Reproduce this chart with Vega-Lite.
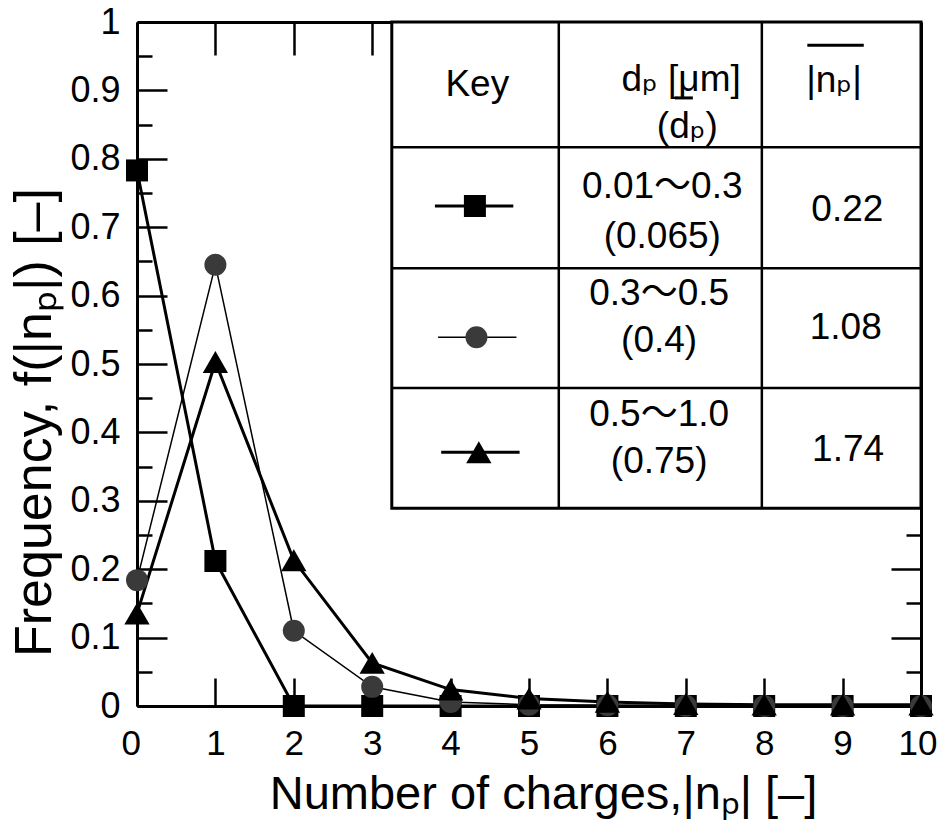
{
  "$schema": "https://vega.github.io/schema/vega-lite/v6.json",
  "width": 784,
  "height": 684,
  "autosize": {"type": "none"},
  "padding": {"left": 137, "top": 22, "right": 18, "bottom": 114},
  "background": "white",
  "config": {
    "view": {"stroke": null},
    "font": "Liberation Sans",
    "axis": {
      "domainColor": "black", "domainWidth": 3,
      "tickColor": "black", "tickWidth": 2.5,
      "labelColor": "black", "labelFont": "Liberation Sans", "labelFontSize": 36,
      "labelFlush": false, "labelOverlap": false, "labelBound": false,
      "titleFont": "Liberation Sans", "titleFontSize": 47, "titleFontWeight": "normal", "titleColor": "black",
      "grid": false
    }
  },
  "datasets": {
    "pts": [
      {"series": "sq", "n": 0, "f": 0.783}, {"series": "sq", "n": 1, "f": 0.212}, {"series": "sq", "n": 2, "f": 0},
      {"series": "sq", "n": 3, "f": 0}, {"series": "sq", "n": 4, "f": 0}, {"series": "sq", "n": 5, "f": 0},
      {"series": "sq", "n": 6, "f": 0}, {"series": "sq", "n": 7, "f": 0}, {"series": "sq", "n": 8, "f": 0},
      {"series": "sq", "n": 9, "f": 0}, {"series": "sq", "n": 10, "f": 0},
      {"series": "ci", "n": 0, "f": 0.184}, {"series": "ci", "n": 1, "f": 0.645}, {"series": "ci", "n": 2, "f": 0.11},
      {"series": "ci", "n": 3, "f": 0.028}, {"series": "ci", "n": 4, "f": 0.006}, {"series": "ci", "n": 5, "f": 0.002},
      {"series": "ci", "n": 6, "f": 0.001}, {"series": "ci", "n": 7, "f": 0.0005}, {"series": "ci", "n": 8, "f": 0},
      {"series": "ci", "n": 9, "f": 0}, {"series": "ci", "n": 10, "f": 0},
      {"series": "tr", "n": 0, "f": 0.135}, {"series": "tr", "n": 1, "f": 0.503}, {"series": "tr", "n": 2, "f": 0.213},
      {"series": "tr", "n": 3, "f": 0.063}, {"series": "tr", "n": 4, "f": 0.024}, {"series": "tr", "n": 5, "f": 0.011},
      {"series": "tr", "n": 6, "f": 0.006}, {"series": "tr", "n": 7, "f": 0.003}, {"series": "tr", "n": 8, "f": 0.002},
      {"series": "tr", "n": 9, "f": 0.002}, {"series": "tr", "n": 10, "f": 0.002}
    ],
    "box": [{"x": 3.25, "x2": 10, "y": 0.289, "y2": 1}],
    "grid": [
      {"x": 5.38, "x2": 5.38, "y": 0.289, "y2": 1},
      {"x": 7.97, "x2": 7.97, "y": 0.289, "y2": 1},
      {"x": 3.25, "x2": 10, "y": 0.817, "y2": 0.817},
      {"x": 3.25, "x2": 10, "y": 0.64, "y2": 0.64},
      {"x": 3.25, "x2": 10, "y": 0.465, "y2": 0.465}
    ],
    "keys": [
      {"series": "sq", "x": 3.8, "x2": 4.8, "xm": 4.31, "y": 0.731},
      {"series": "ci", "x": 3.84, "x2": 4.84, "xm": 4.33, "y": 0.539},
      {"series": "tr", "x": 3.88, "x2": 4.88, "xm": 4.36, "y": 0.371}
    ],
    "texts": [
      {"x": 4.34, "y": 0.908, "label": "Key"},
      {"x": 6.94, "y": 0.915, "label": "dₚ [μm]"},
      {"x": 7.02, "y": 0.846, "label": "(dₚ)"},
      {"x": 8.89, "y": 0.914, "label": "|nₚ|"},
      {"x": 6.7, "y": 0.759, "label": "0.01〜0.3"},
      {"x": 6.7, "y": 0.686, "label": "(0.065)"},
      {"x": 9.06, "y": 0.725, "label": "0.22"},
      {"x": 6.66, "y": 0.602, "label": "0.3〜0.5"},
      {"x": 6.66, "y": 0.534, "label": "(0.4)"},
      {"x": 9.04, "y": 0.553, "label": "1.08"},
      {"x": 6.66, "y": 0.425, "label": "0.5〜1.0"},
      {"x": 6.66, "y": 0.357, "label": "(0.75)"},
      {"x": 9.07, "y": 0.374, "label": "1.74"}
    ],
    "bars": [
      {"x": 6.86, "x2": 7.09, "y": 0.889},
      {"x": 8.55, "x2": 9.27, "y": 0.966}
    ]
  },
  "resolve": {"axis": {"x": "independent", "y": "independent"}},
  "layer": [
    {
      "data": {"name": "pts"},
      "mark": {"type": "line", "color": "black"},
      "encoding": {
        "x": {"field": "n", "type": "quantitative",
          "scale": {"domain": [0, 10], "nice": false, "zero": false},
          "axis": {"orient": "bottom", "values": [0,1,2,3,4,5,6,7,8,9,10], "tickSize": -28, "labelPadding": 48, "format": "d",
            "labelFontSize": 35, "labelFlush": true, "labelFlushOffset": 16,
            "title": "Number of charges,|nₚ| [–]", "titleX": 406, "titleY": 102, "titleBaseline": "alphabetic", "titleAlign": "center"}},
        "y": {"field": "f", "type": "quantitative",
          "scale": {"domain": [0, 1], "nice": false},
          "axis": {"orient": "left", "values": [0,0.1,0.2,0.3,0.4,0.5,0.6,0.7,0.8,0.9,1], "tickSize": -30, "labelPadding": 47, "format": "~g",
            "title": "Frequency, f(|nₚ|) [–]", "titleFontSize": 52, "titleX": -76, "titleY": 400, "titleAlign": "center"}},
        "strokeWidth": {"field": "series", "type": "nominal", "scale": {"type": "ordinal", "domain": ["sq","ci","tr"], "range": [3, 1.5, 3]}, "legend": null},
        "detail": {"field": "series"}
      }
    },
    {
      "data": {"name": "pts"},
      "mark": {"type": "point", "filled": true, "opacity": 1},
      "encoding": {
        "x": {"field": "n", "type": "quantitative", "scale": {"domain": [0, 10], "nice": false, "zero": false},
          "axis": {"orient": "top", "values": [0,1,2,3,4,5,6,7,8,9,10], "tickSize": -33, "labels": false, "domain": true, "title": null}},
        "y": {"field": "f", "type": "quantitative", "scale": {"domain": [0, 1], "nice": false},
          "axis": {"orient": "left", "values": [0.05,0.15,0.25,0.35,0.45,0.55,0.65,0.75,0.85,0.95], "tickSize": -15, "labels": false, "domain": false, "title": null}},
        "shape": {"field": "series", "type": "nominal", "scale": {"domain": ["sq","ci","tr"], "range": ["square","circle","triangle-up"]}, "legend": null},
        "color": {"field": "series", "type": "nominal", "scale": {"domain": ["sq","ci","tr"], "range": ["#000000","#3a3a3a","#000000"]}, "legend": null},
        "size": {"field": "series", "type": "nominal", "scale": {"type": "ordinal", "domain": ["sq","ci","tr"], "range": [484, 484, 640]}, "legend": null}
      }
    },
    {
      "data": {"name": "box"},
      "mark": {"type": "rect", "fill": "white", "stroke": "black", "strokeWidth": 3},
      "encoding": {
        "x": {"field": "x", "type": "quantitative", "scale": {"domain": [0, 10], "nice": false, "zero": false}, "axis": null},
        "x2": {"field": "x2"},
        "y": {"field": "y", "type": "quantitative", "scale": {"domain": [0, 1], "nice": false},
          "axis": {"orient": "right", "values": [0,0.1,0.2,0.3,0.4,0.5,0.6,0.7,0.8,0.9,1], "tickSize": -30, "labels": false, "domain": true, "title": null}},
        "y2": {"field": "y2"}
      }
    },
    {
      "data": {"name": "grid"},
      "mark": {"type": "rule", "color": "black", "strokeWidth": 2.5},
      "encoding": {
        "x": {"field": "x", "type": "quantitative", "scale": {"domain": [0, 10], "nice": false, "zero": false}, "axis": null},
        "x2": {"field": "x2"},
        "y": {"field": "y", "type": "quantitative", "scale": {"domain": [0, 1], "nice": false},
          "axis": {"orient": "right", "values": [0.05,0.15,0.25,0.35,0.45,0.55,0.65,0.75,0.85,0.95], "tickSize": -15, "labels": false, "domain": false, "title": null}},
        "y2": {"field": "y2"}
      }
    },
    {
      "data": {"name": "keys"},
      "mark": {"type": "rule", "color": "black"},
      "encoding": {
        "x": {"field": "x", "type": "quantitative", "scale": {"domain": [0, 10], "nice": false, "zero": false}, "axis": null},
        "x2": {"field": "x2"},
        "y": {"field": "y", "type": "quantitative", "scale": {"domain": [0, 1], "nice": false}, "axis": null},
        "strokeWidth": {"field": "series", "type": "nominal", "scale": {"type": "ordinal", "domain": ["sq","ci","tr"], "range": [3, 1.5, 3]}, "legend": null}
      }
    },
    {
      "data": {"name": "keys"},
      "mark": {"type": "point", "filled": true, "opacity": 1},
      "encoding": {
        "x": {"field": "xm", "type": "quantitative", "scale": {"domain": [0, 10], "nice": false, "zero": false}, "axis": null},
        "y": {"field": "y", "type": "quantitative", "scale": {"domain": [0, 1], "nice": false}, "axis": null},
        "shape": {"field": "series", "type": "nominal", "scale": {"domain": ["sq","ci","tr"], "range": ["square","circle","triangle-up"]}, "legend": null},
        "color": {"field": "series", "type": "nominal", "scale": {"domain": ["sq","ci","tr"], "range": ["#000000","#3a3a3a","#000000"]}, "legend": null},
        "size": {"field": "series", "type": "nominal", "scale": {"type": "ordinal", "domain": ["sq","ci","tr"], "range": [484, 484, 640]}, "legend": null}
      }
    },
    {
      "data": {"name": "texts"},
      "mark": {"type": "text", "font": "Liberation Sans, DejaVu Sans, Noto Sans CJK JP", "fontSize": 37, "align": "center", "baseline": "middle", "color": "black"},
      "encoding": {
        "x": {"field": "x", "type": "quantitative", "scale": {"domain": [0, 10], "nice": false, "zero": false}, "axis": null},
        "y": {"field": "y", "type": "quantitative", "scale": {"domain": [0, 1], "nice": false}, "axis": null},
        "text": {"field": "label"}
      }
    },
    {
      "data": {"name": "bars"},
      "mark": {"type": "rule", "color": "black", "strokeWidth": 3},
      "encoding": {
        "x": {"field": "x", "type": "quantitative", "scale": {"domain": [0, 10], "nice": false, "zero": false}, "axis": null},
        "x2": {"field": "x2"},
        "y": {"field": "y", "type": "quantitative", "scale": {"domain": [0, 1], "nice": false}, "axis": null}
      }
    }
  ]
}
